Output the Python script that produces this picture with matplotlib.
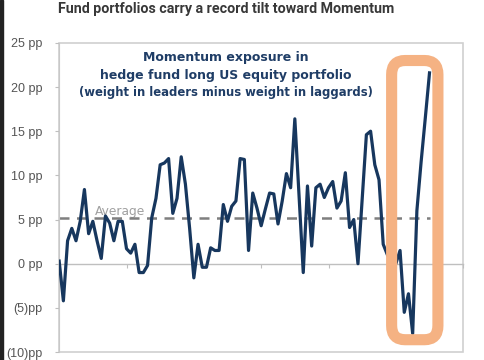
import numpy as np
import matplotlib.pyplot as plt
from matplotlib.patches import FancyBboxPatch, Rectangle

# momentum exposure, pp (weight in leaders minus weight in laggards), monthly
exposure = [
    0.3, -4.2, 2.6, 4.0, 2.6, 4.8, 8.4, 3.4, 4.8, 2.6,
    0.6, 5.4, 4.6, 2.6, 4.8, 4.8, 1.7, 1.2, 2.2, -1.0,
    -1.0, -0.2, 5.2, 7.4, 11.2, 11.4, 11.9, 5.7, 7.4, 12.1,
    9.0, 4.0, -1.6, 2.2, -0.4, -0.4, 1.8, 1.5, 1.5, 6.7,
    4.8, 6.5, 7.1, 11.9, 11.8, 1.5, 8.0, 6.3, 4.3, 6.2,
    8.0, 7.9, 4.5, 7.1, 10.2, 8.6, 16.4, 7.7, -1.0, 8.8,
    2.0, 8.6, 9.0, 7.5, 8.6, 9.3, 6.3, 7.1, 10.3, 4.1,
    5.0, 0.0, 7.3, 14.6, 15.0, 11.2, 9.5, 2.2, 1.0, 0.3,
    0.0, 1.5, -5.5, -3.4, -7.9, 6.0, 11.5, 16.5, 21.6,
]
average = 5.2
highlight_start = 79   # first month inside the orange box
highlight_end = 90
ytick_vals = [-10, -5, 0, 5, 10, 15, 20, 25]
ytick_labels = ['(10)pp', '(5)pp', '0 pp', '5 pp', '10 pp', '15 pp', '20 pp', '25 pp']
xtick_vals = [16, 32, 48, 64, 80, 96]

months = np.arange(len(exposure))

fig = plt.figure(figsize=(4.85, 3.6), dpi=100)
ax = fig.add_axes([0.122, 0.022, 0.833, 0.859])

ax.set_xlim(0, 96)
ax.set_ylim(-10, 25)

# zero line doubles as the x axis
for side in ['top', 'right']:
    ax.spines[side].set_visible(False)
ax.spines['left'].set_color('#c8c8c8')
ax.spines['bottom'].set_position(('data', 0))
ax.spines['bottom'].set_color('#bfbfbf')
ax.spines['bottom'].set_linewidth(1)
ax.set_xticks(xtick_vals)
ax.tick_params(axis='x', length=3, color='#bfbfbf', labelbottom=False)

# light frame around the plot area
ax.add_patch(Rectangle((0, 0), 1, 1, transform=ax.transAxes, fill=False,
                       edgecolor='#d0d0d0', lw=1.2, clip_on=False, zorder=1))

ax.set_yticks(ytick_vals)
ax.set_yticklabels(ytick_labels, family='Liberation Sans')
ax.tick_params(axis='y', length=3, color='#bfbfbf', labelsize=9,
               labelcolor='#555555', pad=9)

ax.plot([0, len(exposure) - 1], [average, average], ls=(0, (4, 3)),
        color='#7f7f7f', lw=1.8, zorder=2)
ax.text(8.6, average + 0.7, 'Average', color='#a0a0a0', fontsize=8.8,
        va='center', ha='left', zorder=1)

ax.plot(months, exposure, color='#17375e', lw=2.3, zorder=3)

box = FancyBboxPatch((highlight_start, -8.6), highlight_end - highlight_start, 31.6,
                     boxstyle='round,pad=0,rounding_size=3.2', mutation_aspect=0.5,
                     fill=False, edgecolor='#f5b283', lw=8, zorder=4)
ax.add_patch(box)

ax.text(0.413, 0.951, 'Momentum exposure in', transform=ax.transAxes,
        ha='center', va='center', fontsize=9, fontweight='bold', color='#1f3d66')
ax.text(0.413, 0.896, 'hedge fund long US equity portfolio', transform=ax.transAxes,
        ha='center', va='center', fontsize=9, fontweight='bold', color='#1f3d66')
ax.text(0.413, 0.838, '(weight in leaders minus weight in laggards)',
        transform=ax.transAxes, ha='center', va='center', fontsize=8.4,
        fontweight='bold', color='#1f3d66')

fig.text(0.12, 0.975, 'Fund portfolios carry a record tilt toward Momentum',
         ha='left', va='center', fontsize=10.3, fontweight='bold', color='#383838',
         family='Roboto')

# dark strip at the left edge of the screenshot
fig.add_artist(Rectangle((0, 0), 0.006, 1, transform=fig.transFigure,
                         color='#222222'))

fig.savefig('out.png', dpi=100)
